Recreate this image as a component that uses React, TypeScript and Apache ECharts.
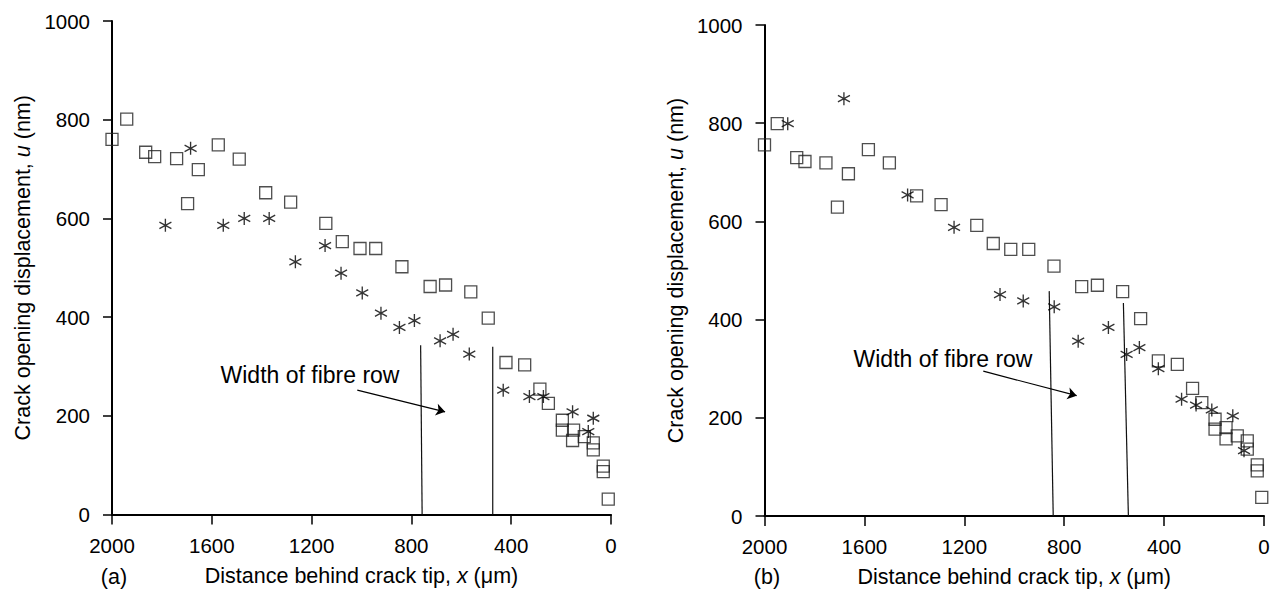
import React, { useEffect, useRef } from "react";
import * as echarts from "echarts";

// ---------- data ----------
const X_TICKS = [2000, 1600, 1200, 800, 400, 0];
const Y_TICKS = [0, 200, 400, 600, 800, 1000];

// Panel (a)
const squaresAX = [2000, 1941, 1865, 1829, 1741, 1697, 1654, 1574, 1490, 1384, 1284, 1143, 1077, 1006, 943, 838, 725, 663, 562, 492, 421, 346, 285, 251, 195, 195, 150, 154, 107, 71, 71, 31, 31, 11];
const squaresAY = [760, 801, 734, 725, 721, 630, 699, 749, 720, 652, 633, 590, 553, 539, 539, 502, 462, 465, 451, 398, 308, 303, 254, 225, 191, 171, 171, 150, 158, 145, 131, 98, 87, 31];
const starsAX = [1786, 1685, 1554, 1470, 1370, 1265, 1146, 1082, 997, 922, 848, 788, 685, 633, 568, 432, 327, 271, 154, 71, 91];
const starsAY = [586, 742, 586, 600, 600, 512, 545, 489, 449, 408, 379, 393, 352, 365, 325, 252, 239, 239, 208, 195, 168];
const fibreLinesA = [
  [[757, 0], [763, 343]],
  [[474, 0], [474, 340]],
];
const arrowA = [[1017, 252], [665, 208]];

// Panel (b)
const squaresBX = [2000, 1949, 1871, 1838, 1754, 1708, 1664, 1584, 1500, 1391, 1293, 1150, 1084, 1014, 942, 841, 730, 667, 566, 494, 423, 347, 286, 249, 196, 196, 152, 152, 107, 67, 67, 27, 27, 9];
const squaresBY = [756, 799, 730, 722, 719, 629, 697, 746, 719, 652, 634, 592, 555, 543, 543, 509, 467, 470, 457, 402, 316, 309, 260, 231, 197, 177, 180, 157, 163, 153, 136, 104, 92, 38];
const starsBX = [1682, 1907, 1427, 1241, 1057, 964, 840, 744, 623, 550, 499, 423, 330, 272, 209, 125, 80];
const starsBY = [850, 799, 654, 588, 451, 438, 426, 356, 384, 329, 343, 300, 238, 226, 216, 204, 133];
const fibreLinesB = [
  [[844, 0], [860, 458]],
  [[543, 0], [563, 434]],
];
const arrowB = [[1124, 295], [750, 245]];

const ANNOTATION = "Width of fibre row";
const Y_TITLE = "Crack opening displacement, {i|u} (nm)";
const X_TITLE = "Distance behind crack tip, {i|x} (\u03bcm)";
const PANEL_LABELS = ["(a)", "(b)"];

// ---------- styling ----------
const FONT = "'Liberation Sans', Arial, Helvetica, sans-serif";
const INK = "#000";
const STAR = "path://M6 0L6 12M0.8 3L11.2 9M0.8 9L11.2 3";

const zip = (xs: number[], ys: number[]) => xs.map((x, i) => [x, ys[i]]);
const plain = (v: number) => String(v);

function xAxisFor(gridIndex: number) {
  return {
    type: "value",
    gridIndex,
    min: 0,
    max: X_TICKS[0],
    interval: X_TICKS[0] - X_TICKS[1],
    inverse: true,
    name: X_TITLE,
    nameLocation: "middle",
    nameGap: 50,
    nameTextStyle: {
      fontFamily: FONT,
      fontSize: 21.5,
      color: INK,
      rich: { i: { fontFamily: FONT, fontSize: 21.5, fontStyle: "italic", color: INK } },
    },
    axisLine: { show: true, onZero: false, lineStyle: { color: INK, width: 2 } },
    axisTick: { show: true, inside: false, length: 10, lineStyle: { color: INK, width: 1.5 } },
    axisLabel: { margin: 20, fontFamily: FONT, fontSize: 20.5, color: INK, formatter: plain },
    splitLine: { show: false },
  };
}

function yAxisFor(gridIndex: number) {
  return {
    type: "value",
    gridIndex,
    min: Y_TICKS[0],
    max: Y_TICKS[Y_TICKS.length - 1],
    interval: Y_TICKS[1] - Y_TICKS[0],
    name: Y_TITLE,
    nameLocation: "middle",
    nameGap: 78,
    nameTextStyle: {
      fontFamily: FONT,
      fontSize: 21.5,
      color: INK,
      rich: { i: { fontFamily: FONT, fontSize: 21.5, fontStyle: "italic", color: INK } },
    },
    axisLine: { show: true, onZero: false, lineStyle: { color: INK, width: 2 } },
    axisTick: { show: true, inside: false, length: 9, lineStyle: { color: INK, width: 1.5 } },
    axisLabel: { margin: 22, fontFamily: FONT, fontSize: 20.5, color: INK, formatter: plain },
    splitLine: { show: false },
  };
}

function panelSeries(
  idx: number,
  sx: number[],
  sy: number[],
  ax: number[],
  ay: number[],
  lines: number[][][],
  arrow: number[][]
) {
  const out: any[] = [
    {
      type: "scatter",
      xAxisIndex: idx,
      yAxisIndex: idx,
      data: zip(sx, sy),
      symbol: "rect",
      symbolSize: 12,
      itemStyle: { color: "rgba(0,0,0,0)", borderColor: "#222", borderWidth: 1.3 },
      z: 3,
    },
    {
      type: "scatter",
      xAxisIndex: idx,
      yAxisIndex: idx,
      data: zip(ax, ay),
      symbol: STAR,
      symbolSize: [12, 13],
      itemStyle: { color: "rgba(0,0,0,0)", borderColor: "#000", borderWidth: 1.4 },
      z: 4,
    },
  ];
  lines.forEach((l) => {
    out.push({
      type: "line",
      xAxisIndex: idx,
      yAxisIndex: idx,
      data: l,
      symbol: "none",
      lineStyle: { color: "#111", width: 1.2 },
      z: 2,
    });
  });
  out.push({
    type: "lines",
    coordinateSystem: "cartesian2d",
    xAxisIndex: idx,
    yAxisIndex: idx,
    symbol: ["none", "arrow"],
    symbolSize: 9,
    lineStyle: { color: "#000", width: 1.2, opacity: 1 },
    data: [{ coords: arrow }],
    z: 5,
  });
  return out;
}

export default function App() {
  const ref = useRef<HTMLDivElement>(null);

  useEffect(() => {
    if (!ref.current) return;
    const chart = echarts.init(ref.current, undefined, { renderer: "svg" });
    const textStyle = (x: number, y: number, text: string, size: number) => ({
      type: "text",
      x,
      y,
      style: {
        text,
        fontFamily: FONT,
        fontSize: size,
        fill: INK,
        align: "center",
        verticalAlign: "middle",
      },
    });
    chart.setOption({
      animation: false,
      backgroundColor: "#ffffff",
      grid: [
        { left: 112, top: 21, width: 499, height: 493.5, containLabel: false },
        { left: 764.5, top: 25, width: 499.5, height: 492, containLabel: false },
      ],
      xAxis: [xAxisFor(0), xAxisFor(1)],
      yAxis: [yAxisFor(0), yAxisFor(1)],
      series: [
        ...panelSeries(0, squaresAX, squaresAY, starsAX, starsAY, fibreLinesA, arrowA),
        ...panelSeries(1, squaresBX, squaresBY, starsBX, starsBY, fibreLinesB, arrowB),
      ],
      graphic: [
        textStyle(310, 375, ANNOTATION, 23),
        textStyle(943, 359, ANNOTATION, 23),
        textStyle(114, 577, PANEL_LABELS[0], 21.5),
        textStyle(767, 577, PANEL_LABELS[1], 21.5),
      ],
    });
    return () => chart.dispose();
  }, []);

  return (
    <div
      ref={ref}
      style={{ position: "fixed", left: 0, top: 0, width: 1285, height: 593, background: "#fff" }}
    />
  );
}
